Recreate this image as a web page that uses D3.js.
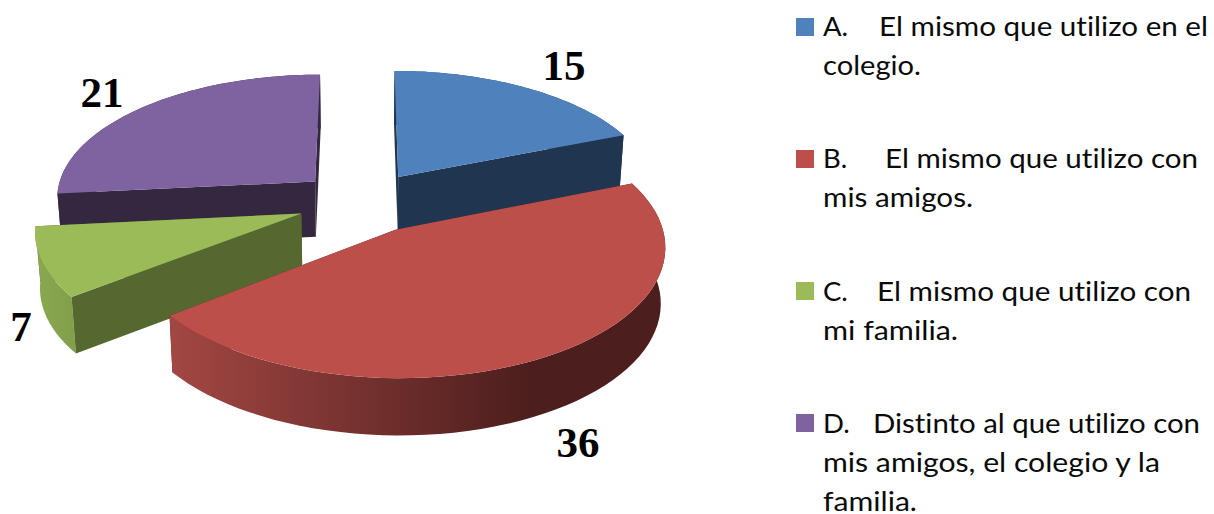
<!DOCTYPE html>
<html><head><meta charset="utf-8">
<script src="https://cdnjs.cloudflare.com/ajax/libs/d3/7.8.5/d3.min.js"></script>
<style>html,body{margin:0;padding:0;background:#fff;overflow:hidden}svg{display:block}text{font-variant-ligatures:none;font-feature-settings:"liga" 0,"clig" 0,"dlig" 0}</style>
</head><body><svg id="c" width="1214" height="514"></svg>
<script>
const categories = ["A","B","C","D"];
const values = [15,36,7,21];
const topColors = ["#4f81bd","#bd4f4b","#9bbb59","#7f62a0"];
const cutColors = ["#203550","#4d1f1e","#55682f","#33283f"];
const wallStart = ["#2a4566","#a34743","#8aa850","#43345a"];
const wallEnd = ["#203550","#4c1e1d","#82a049","#33283f"];
const legendPrefix = ["A.","B.","C.","D."];
const legendFirst = ["El mismo que utilizo en el","El mismo que utilizo con","El mismo que utilizo con","Distinto al que utilizo con"];
const legendRest = [["colegio."],["mis amigos."],["mi familia."],["mis amigos, el colegio y la","familia."]];

// layout
const X0=362.5,Y0=202,A=260.5,B=124,K=0.1175,E=0.25;
const svg=d3.select("#c");
const defs=svg.append("defs");
const pie=d3.pie().sort(null).value(d=>d).startAngle(0).endAngle(2*Math.PI);
const arcs=pie(values);
const proj=(U,V,bottom)=>{
  const d=1-K*V;
  let x=A*U/d,y=B*V/d;
  if(bottom){x*=0.985;y+=55.5+1.5*V;}
  return [X0+x,Y0+y];
};
const line=d3.line();
const pt=(a,ang,r,bottom)=>{
  const mid=(a.startAngle+a.endAngle)/2;
  const U=E*Math.sin(mid)+r*Math.sin(ang),V=-E*Math.cos(mid)-r*Math.cos(ang);
  return proj(U,V,bottom);
};
const sweep=(a,bottom)=>d3.range(0,61).map(i=>pt(a,a.startAngle+(a.endAngle-a.startAngle)*i/60,1,bottom));
const cutWall=(a,ang)=>line([pt(a,ang,0,false),pt(a,ang,1,false),pt(a,ang,1,true),pt(a,ang,0,true)])+"Z";
const eps=1e-6;
const startFront=a=>Math.sin(a.startAngle)<eps;
const endFront=a=>Math.sin(a.endAngle)>-eps;

const order=[3,0,2,1];
order.forEach(i=>{
  const a=arcs[i];
  const top=sweep(a,false),bot=sweep(a,true);
  const xs=top.map(p=>p[0]);
  const g=defs.append("linearGradient").attr("id","w"+i).attr("gradientUnits","userSpaceOnUse")
    .attr("x1",d3.min(xs)).attr("x2",i===1?d3.min(xs)+360:d3.max(xs)).attr("y1",0).attr("y2",0);
  g.append("stop").attr("offset",0).attr("stop-color",wallStart[i]);
  g.append("stop").attr("offset",1).attr("stop-color",wallEnd[i]);
  const s=svg.append("g").attr("class","slice").attr("data-cat",categories[i]);
  const wall=ang=>s.append("path").attr("d",cutWall(a,ang)).attr("fill",cutColors[i]);
  if(!startFront(a)) wall(a.startAngle);
  if(!endFront(a)) wall(a.endAngle);
  s.append("path").attr("d",line(top.concat(bot.slice().reverse()))+"Z").attr("fill",`url(#w${i})`);
  if(startFront(a)) wall(a.startAngle);
  if(endFront(a)) wall(a.endAngle);
  s.append("path").attr("d",line([pt(a,a.startAngle,0,false)].concat(top))+"Z").attr("fill",topColors[i]);
});

// value labels
const labelPos=[[564,80],[578,457],[21,341],[102,107]];
svg.selectAll("text.v").data(values).join("text").attr("class","v")
  .attr("x",(d,i)=>labelPos[i][0]).attr("y",(d,i)=>labelPos[i][1])
  .attr("text-anchor","middle").attr("font-family","Liberation Serif").attr("font-weight","bold")
  .attr("font-size",43).attr("fill","#000").text(d=>d);

// legend
const legendY=[36,168,301,433], bodyX=[879,885,877,873], firstEnd=[1208,1198,1191,1200];
const restEnd=[[921],[973],[958],[1160,917]];
const txt=(x,y,t,end)=>{
  const e=svg.append("text").attr("x",x).attr("y",y).attr("font-family","Lato").attr("font-size",27.5).attr("fill","#0a0a0a").text(t);
  if(end) e.attr("textLength",end-x).attr("lengthAdjust","spacingAndGlyphs");
};
categories.forEach((c,i)=>{
  svg.append("rect").attr("x",796).attr("y",(i<2?legendY[i]:legendY[i]-1)-18).attr("width",18).attr("height",18).attr("fill",topColors[i]);
  txt(823,legendY[i],legendPrefix[i]);
  txt(bodyX[i],legendY[i],legendFirst[i],firstEnd[i]);
  legendRest[i].forEach((t,j)=>txt(823,legendY[i]+38.75*(j+1),t,restEnd[i][j]));
});
</script></body></html>
